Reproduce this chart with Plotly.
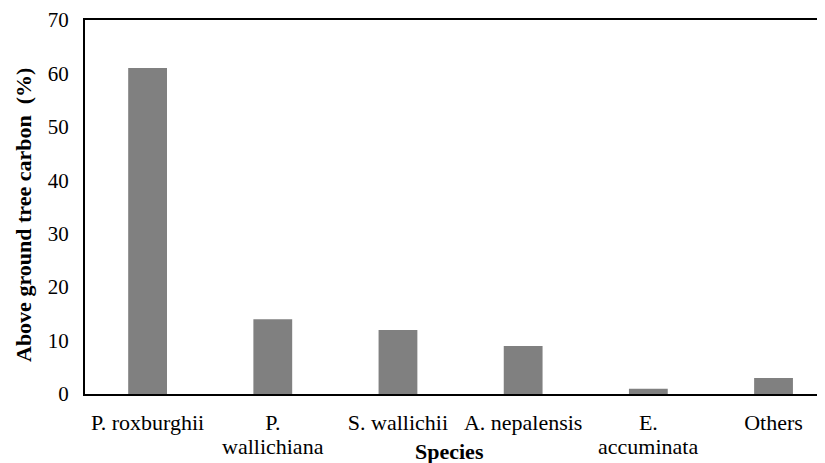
import plotly.graph_objects as go

species = ["P. roxburghii", "P.<br>wallichiana", "S. wallichii", "A. nepalensis", "E.<br>accuminata", "Others"]
carbon_pct = [61, 14, 12, 9, 1, 3]
y_ticks = [0, 10, 20, 30, 40, 50, 60, 70]

FONT = "Liberation Serif"

# page is offset by the default 8px body margin
PW = 748.0
PH = 374.0

first_lines = [s.split("<br>")[0] for s in species]
second_lines = [(i, s.split("<br>")[1]) for i, s in enumerate(species) if "<br>" in s]

fig = go.Figure()
fig.add_trace(go.Bar(
    x=list(range(len(species))), y=carbon_pct,
    marker=dict(color="#808080", line=dict(width=0)),
    width=0.31,
))

annotations = [
    dict(text="<b>Species</b>", xref="paper", yref="paper",
         x=(449 - 85) / PW, y=-(451 - 394) / PH, xanchor="center", yanchor="middle",
         showarrow=False, font=dict(family=FONT, size=22, color="black")),
    dict(text="<b>Above ground tree carbon \u00a0(%)</b>", xref="paper", yref="paper",
         x=(23 - 85) / PW, y=(394 - 215) / PH, xanchor="center", yanchor="middle",
         textangle=-90, showarrow=False,
         font=dict(family=FONT, size=22, color="black")),
]
for i, txt in second_lines:
    annotations.append(dict(text=txt, x=i, xref="x", yref="paper",
                            y=-(446 - 394) / PH, xanchor="center", yanchor="middle",
                            showarrow=False, font=dict(family=FONT, size=22, color="black")))

fig.update_layout(
    width=825, height=463,
    margin=dict(l=77, r=0, t=12, b=77),
    plot_bgcolor="white", paper_bgcolor="white",
    showlegend=False,
    font=dict(family=FONT, size=22, color="black"),
    xaxis=dict(
        range=[-0.5, 5.475],
        tickmode="array", tickvals=list(range(len(species))), ticktext=first_lines,
        showline=True, linecolor="black", linewidth=2, mirror=True,
        showgrid=False, zeroline=False, ticks="",
        ticklabelstandoff=8,
        tickfont=dict(family=FONT, size=22, color="black"),
    ),
    yaxis=dict(
        range=[0, 70], tickvals=y_ticks,
        showline=True, linecolor="black", linewidth=2, mirror=False,
        showgrid=False, zeroline=False, ticks="",
        ticklabelstandoff=10,
        tickfont=dict(family=FONT, size=21, color="black"),
    ),
    annotations=annotations,
)

fig.write_html("out.html")
